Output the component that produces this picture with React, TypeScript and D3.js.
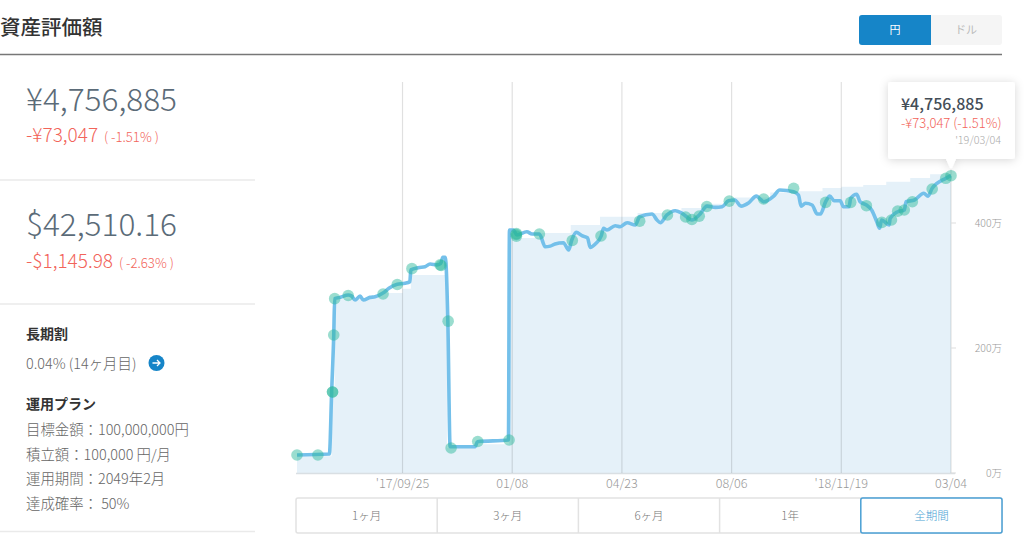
import React from "react";
import * as d3 from "d3";

const FONT = "'Noto Sans CJK JP', 'Noto Sans', sans-serif";
const BLUE = "#1685c8";
const RED = "#f2645a";

const startDate = new Date(2017, 5, 16);

// 評価額 (days since startDate / 万円)
const lineDays = [
  0, 31, 33.2, 35.2, 36.1, 41.2, 49.1, 52.4, 55.6, 60.4, 63.5, 70, 74.7, 82.7, 88, 96, 103.5, 108, 109, 116,
  122.6, 127.4, 133.8, 137.7, 139.6, 142, 144.4, 146.6, 170.5, 172.7, 202.4, 203.4, 207.2, 210.5, 220, 225,
  232, 237.6, 242.4, 247, 255, 260, 263, 267.3, 272.7, 278, 280.7, 285.5, 291.2, 293.4, 296.7, 304.6, 309.4,
  316, 323.8, 328, 339.8, 344.6, 347.8, 354, 362, 368.6, 378, 385, 392.5, 400.4, 407, 413, 419, 425, 432.5,
  439.7, 443.6, 446.7, 456.3, 462, 475.4, 480, 482.5, 486.7, 493, 498, 501, 506, 510, 514, 520, 523, 528.4,
  530, 535.7, 539, 545, 550, 555, 557.6, 559.6, 566.8, 567.8, 575, 581.3, 583, 591, 600, 604, 608, 621, 626,
];
const lineValues = [
  28.8, 30.4, 129.6, 220.3, 278.9, 281, 284.8, 283, 276.8, 283, 276.8, 281, 282, 288.5, 295.5, 302, 303.5, 306,
  325, 328.5, 330, 334.4, 333, 335.5, 345, 345, 243, 42, 42, 50, 52.8, 388.8, 388.8, 380.8, 386, 382.4, 382.4,
  362, 363, 366.4, 368.5, 356.8, 372.8, 385, 379.7, 376.5, 361, 366.4, 379.2, 391.5, 388.8, 395.7, 394, 400.5,
  396.8, 410, 414.4, 404.8, 400.5, 412.8, 419.7, 415.5, 404.8, 412.8, 427, 425, 426, 435.7, 436.8, 427, 432.5,
  443, 438, 434, 443, 452.8, 450, 444.8, 427, 431.5, 428.8, 414.4, 414.4, 434, 443, 435.7, 435.7, 426, 426,
  439.5, 446, 434, 428.8, 420.8, 402, 391.5, 404.8, 396.8, 407.5, 418, 420.8, 434, 436.8, 447.5, 443, 455.5,
  471.5, 475.7,
];

// 入金額の階段
const stepDays = [
  0, 33, 36, 65, 79.4, 101, 109, 143.5, 172, 203, 234, 262, 290, 326, 368, 387, 416, 453, 479, 503, 521, 542,
  564, 587, 606, 626,
];
const stepValues = [
  27, 130, 278, 281, 288, 295, 317, 40, 46, 376, 384, 397, 410, 416, 424, 431, 441, 449, 451, 456, 458, 461,
  466, 472, 478, 481,
];

// 積立・売買のマーカー
const markerDays = [
  0, 20, 34, 34, 35.2, 36.1, 49, 82.4, 96, 110, 138, 137, 144.7, 147.5, 173, 203, 210, 209.8, 210, 232, 263.5,
  291, 328, 354.6, 372, 378, 385, 392.3, 413.8, 446.7, 475.4, 506, 530, 545, 559.8, 569, 575, 581.3, 589, 608,
  621, 626,
];
const markerValues = [
  28.8, 28.8, 129.6, 129.6, 220.8, 279, 284, 286.4, 301.6, 327, 332, 333, 243, 40, 50.4, 52.8, 379, 381.6, 383,
  382.4, 372, 379.2, 403, 412.8, 409.6, 405.6, 411, 426.4, 435, 438.4, 455.5, 433, 433, 427.7, 401, 404.8, 419,
  420.8, 434, 454.4, 471.5, 475.7,
];

const xTickDates = [
  new Date(2017, 8, 25),
  new Date(2018, 0, 8),
  new Date(2018, 3, 23),
  new Date(2018, 7, 6),
  new Date(2018, 10, 19),
  new Date(2019, 2, 4),
];
const xTickLabels = ["'17/09/25", "01/08", "04/23", "08/06", "'18/11/19", "03/04"];
const yTicks = [0, 200, 400];
const periods = ["1ヶ月", "3ヶ月", "6ヶ月", "1年", "全期間"];
const planLines = ["目標金額：100,000,000円", "積立額：100,000 円/月", "運用期間：2049年2月", "達成確率： 50%"];

const dayToDate = (d: number) => d3.timeHour.offset(startDate, d * 24);

export default function App() {
  const xScale = d3.scaleTime().domain([startDate, xTickDates[5]]).range([297, 951]);
  const yScale = d3.scaleLinear().domain([0, 600]).range([473, 98]);

  const lineData = lineDays.map((d, i) => [xScale(dayToDate(d)), yScale(lineValues[i])] as [number, number]);
  const stepData = stepDays.map((d, i) => [xScale(dayToDate(d)), yScale(stepValues[i])] as [number, number]);
  const linePath = d3.line().curve(d3.curveMonotoneX)(lineData) ?? "";
  const areaPath = d3.area().curve(d3.curveStepAfter).y0(yScale(0))(stepData) ?? "";
  const periodX = d3.scaleLinear().domain([0, 5]).range([296, 1002]);

  return (
    <svg
      width={1024}
      height={537}
      style={{ position: "absolute", left: 0, top: 0, background: "#fff", fontFamily: FONT }}
    >
      <defs>
        <filter id="tipShadow" x="-20%" y="-30%" width="140%" height="160%">
          <feDropShadow dx={0} dy={1} stdDeviation={5} floodColor="#000" floodOpacity={0.16} />
        </filter>
      </defs>

      {/* ヘッダー */}
      <text x={0} y={35} fontSize={20.5} fontWeight={500} fill="#333">資産評価額</text>
      <line x1={0} x2={1002} y1={54.5} y2={54.5} stroke="#777" strokeWidth={1.5} />
      <rect x={859} y={15} width={143} height={30} rx={3} fill="#f5f5f5" />
      <path d="M862,15H931V45H862a3,3 0 0 1 -3,-3V18a3,3 0 0 1 3,-3Z" fill={BLUE} />
      <text x={895} y={34} fontSize={11} fill="#fff" textAnchor="middle">円</text>
      <text x={966} y={34} fontSize={11} fill="#bbb" textAnchor="middle">ドル</text>

      {/* 左カラム */}
      <text x={26} y={111} fontSize={31.6} fontWeight={300} fill="#5b6b78">¥4,756,885</text>
      <text x={26} y={142} fontSize={19} fontWeight={300} fill={RED}>-¥73,047</text>
      <text x={104} y={142} fontSize={13.2} fontWeight={300} fill={RED}>( -1.51% )</text>
      <line x1={0} x2={255} y1={180} y2={180} stroke="#eaeaea" strokeWidth={1.5} />
      <text x={26} y={236} fontSize={31.6} fontWeight={300} fill="#5b6b78">$42,510.16</text>
      <text x={26} y={268} fontSize={19} fontWeight={300} fill={RED}>-$1,145.98</text>
      <text x={119} y={268} fontSize={13.2} fontWeight={300} fill={RED}>( -2.63% )</text>
      <line x1={0} x2={255} y1={304} y2={304} stroke="#eaeaea" strokeWidth={1.5} />
      <text x={26} y={339} fontSize={14} fontWeight={700} fill="#333">長期割</text>
      <text x={26} y={369} fontSize={14.4} fontWeight={300} fill="#666">0.04% (14ヶ月目)</text>
      <circle cx={156.5} cy={363} r={8} fill={BLUE} />
      <path d="M152.5,363H160M157,360l3,3l-3,3" fill="none" stroke="#fff" strokeWidth={1.3} />
      <text x={26} y={409} fontSize={14} fontWeight={700} fill="#333">運用プラン</text>
      {planLines.map((t, i) => (
        <text key={t} x={26} y={435 + i * 24.7} fontSize={14.4} fontWeight={300} fill="#666">{t}</text>
      ))}
      <line x1={0} x2={255} y1={531.5} y2={531.5} stroke="#eaeaea" strokeWidth={1.5} />

      {/* チャート */}
      <path d={areaPath} fill="#e5f1f9" />
      <line x1={296} x2={955} y1={473.5} y2={473.5} stroke="#d9dfe3" strokeWidth={1.5} />
      {xTickDates.map((d, i) => (
        <g key={xTickLabels[i]}>
          <line x1={xScale(d)} x2={xScale(d)} y1={82} y2={473} stroke="#000" strokeOpacity={0.12} strokeWidth={1.2} />
          <text x={xScale(d)} y={488} fontSize={12.6} fontWeight={300} fill="#999" textAnchor="middle">
            {xTickLabels[i]}
          </text>
        </g>
      ))}
      {yTicks.map((t) => (
        <g key={t}>
          <line x1={951} x2={956} y1={yScale(t)} y2={yScale(t)} stroke="#ddd" />
          <text x={1002} y={yScale(t) + 4} fontSize={10.5} fontWeight={300} fill="#999" textAnchor="end">
            {t}万
          </text>
        </g>
      ))}
      <path d={linePath} fill="none" stroke="#74c0ea" strokeWidth={3.6} strokeLinejoin="round" />
      {markerDays.map((d, i) => (
        <circle
          key={i}
          cx={xScale(dayToDate(d))}
          cy={yScale(markerValues[i])}
          r={5.8}
          fill="#2cb89a"
          fillOpacity={0.48}
        />
      ))}

      {/* ツールチップ */}
      <g filter="url(#tipShadow)">
        <path d="M891,82H1012a3,3 0 0 1 3,3V156a3,3 0 0 1 -3,3H956L951,170L946,159H891a3,3 0 0 1 -3,-3V85a3,3 0 0 1 3,-3Z" fill="#fff" />
      </g>
      <text x={901} y={110} fontSize={16} fontWeight={500} fill="#444e57">¥4,756,885</text>
      <text x={901} y={128} fontSize={13} fontWeight={300} fill={RED}>-¥73,047 (-1.51%)</text>
      <text x={1001} y={144} fontSize={10.8} fontWeight={300} fill="#aaa" textAnchor="end">'19/03/04</text>

      {/* 期間ボタン */}
      <rect x={296} y={498} width={706} height={35} rx={2} fill="#fff" stroke="#e2e2e2" strokeWidth={1.5} />
      {periods.map((p, i) => (
        <g key={p}>
          {i > 0 && i < 4 && (
            <line x1={periodX(i)} x2={periodX(i)} y1={498} y2={533} stroke="#e2e2e2" strokeWidth={1.5} />
          )}
          {i === 4 && (
            <rect x={periodX(i)} y={498} width={periodX(5) - periodX(4)} height={35} rx={2} fill="#fff" stroke="#4a9fd4" strokeWidth={1.5} />
          )}
          <text
            x={(periodX(i) + periodX(i + 1)) / 2}
            y={519.5}
            fontSize={11.5}
            fontWeight={300}
            fill={i === 4 ? "#4a9fd4" : "#777"}
            textAnchor="middle"
          >
            {p}
          </text>
        </g>
      ))}
    </svg>
  );
}
